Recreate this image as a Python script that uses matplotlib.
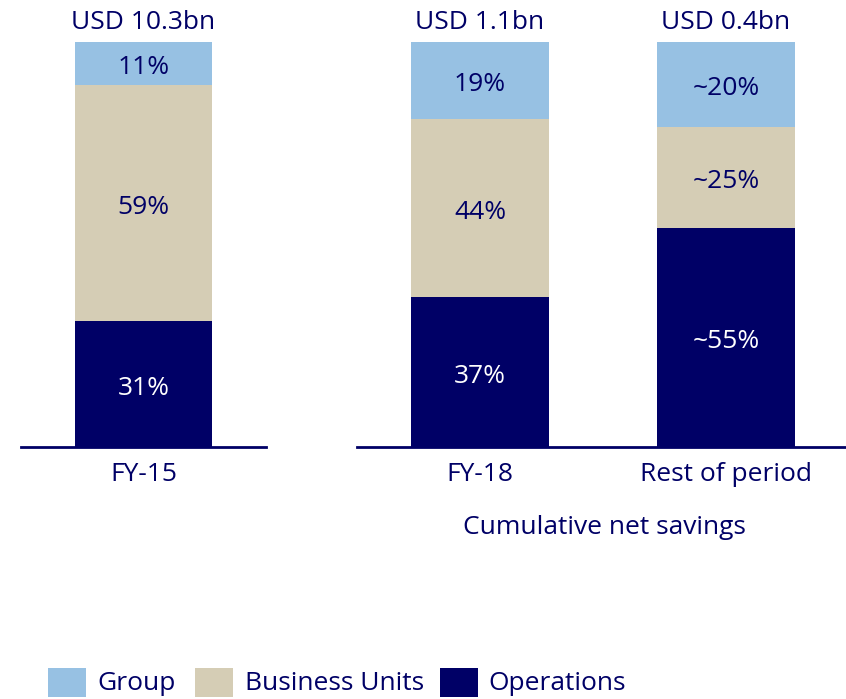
import matplotlib
matplotlib.use("Agg")
import matplotlib.pyplot as plt
from matplotlib.patches import Rectangle

plt.rcParams['font.family'] = ['Open Sans', 'DejaVu Sans']

left_categories = ["FY-15"]
right_categories = ["FY-18", "Rest of period"]
series = ["Operations", "Business Units", "Group"]
left_ops = [31]
left_bu = [58.5]
left_grp = [10.5]
right_ops = [37, 54]
right_bu = [44, 25]
right_grp = [19, 21]
left_ops_labels = ["31%"]
left_bu_labels = ["59%"]
left_grp_labels = ["11%"]
right_ops_labels = ["37%", "~55%"]
right_bu_labels = ["44%", "~25%"]
right_grp_labels = ["19%", "~20%"]
left_totals = ["USD 10.3bn"]
right_totals = ["USD 1.1bn", "USD 0.4bn"]
right_axis_title = "Cumulative net savings"
legend_labels = ["Group", "Business Units", "Operations"]

C_GRP = "#97C1E3"
C_BU = "#D5CDB5"
C_OPS = "#000066"
NAVY = "#000066"
FS = 19

W, H = 846, 699
fig = plt.figure(figsize=(W / 100, H / 100), dpi=100)

bottom = (H - 447) / H
height = (447 - 42) / H
axL = fig.add_axes([21 / W, bottom, 245 / W, height])
axR = fig.add_axes([357 / W, bottom, 492 / W, height])


def seg_label(ax, x, y, s, color):
    ax.annotate(s, xy=(x, y), xytext=(0, -3), textcoords="offset points",
                ha="center", va="center", color=color, fontsize=FS)


def draw(ax, cats, ops, bu, grp, opsl, bul, grpl, totals):
    x = list(range(len(cats)))
    w = 0.557
    ax.bar(x, ops, w, color=C_OPS, label=series[0])
    ax.bar(x, bu, w, bottom=ops, color=C_BU, label=series[1])
    base3 = [a + b for a, b in zip(ops, bu)]
    ax.bar(x, grp, w, bottom=base3, color=C_GRP, label=series[2])
    for i in x:
        seg_label(ax, i, ops[i] / 2, opsl[i], "white")
        seg_label(ax, i, ops[i] + bu[i] / 2, bul[i], NAVY)
        seg_label(ax, i, base3[i] + grp[i] / 2, grpl[i], NAVY)
        ax.annotate(totals[i], xy=(i, 100), xytext=(0, 14), textcoords="offset points",
                    ha="center", va="center", color=NAVY, fontsize=FS, annotation_clip=False)
    ax.set_xticks(x)
    ax.set_xticklabels(cats, color=NAVY, fontsize=FS)
    ax.set_xlim(-0.5, len(cats) - 0.5)
    ax.set_ylim(0, 100)
    ax.set_yticks([])
    for s in ["top", "left", "right"]:
        ax.spines[s].set_visible(False)
    ax.spines["bottom"].set_color(NAVY)
    ax.spines["bottom"].set_linewidth(2)
    ax.tick_params(axis="x", length=0, pad=11)
    ax.patch.set_alpha(0)


draw(axL, left_categories, left_ops, left_bu, left_grp, left_ops_labels,
     left_bu_labels, left_grp_labels, left_totals)
draw(axR, right_categories, right_ops, right_bu, right_grp, right_ops_labels,
     right_bu_labels, right_grp_labels, right_totals)

fig.text(604 / W, 1 - 528 / H, right_axis_title, ha="center", va="center", color=NAVY, fontsize=FS)

# Legend
leg_colors = [C_GRP, C_BU, C_OPS]
leg_patch_x = [48, 195, 440]
leg_text_x = [97, 245, 488]
for name, col, px, tx in zip(legend_labels, leg_colors, leg_patch_x, leg_text_x):
    fig.patches.append(Rectangle((px / W, 1 - 697 / H), 38 / W, 29 / H, transform=fig.transFigure,
                                 facecolor=col, edgecolor="none"))
    fig.text(tx / W, 1 - 684 / H, name, ha="left", va="center", color=NAVY, fontsize=FS)

fig.savefig("out.png", dpi=100)
